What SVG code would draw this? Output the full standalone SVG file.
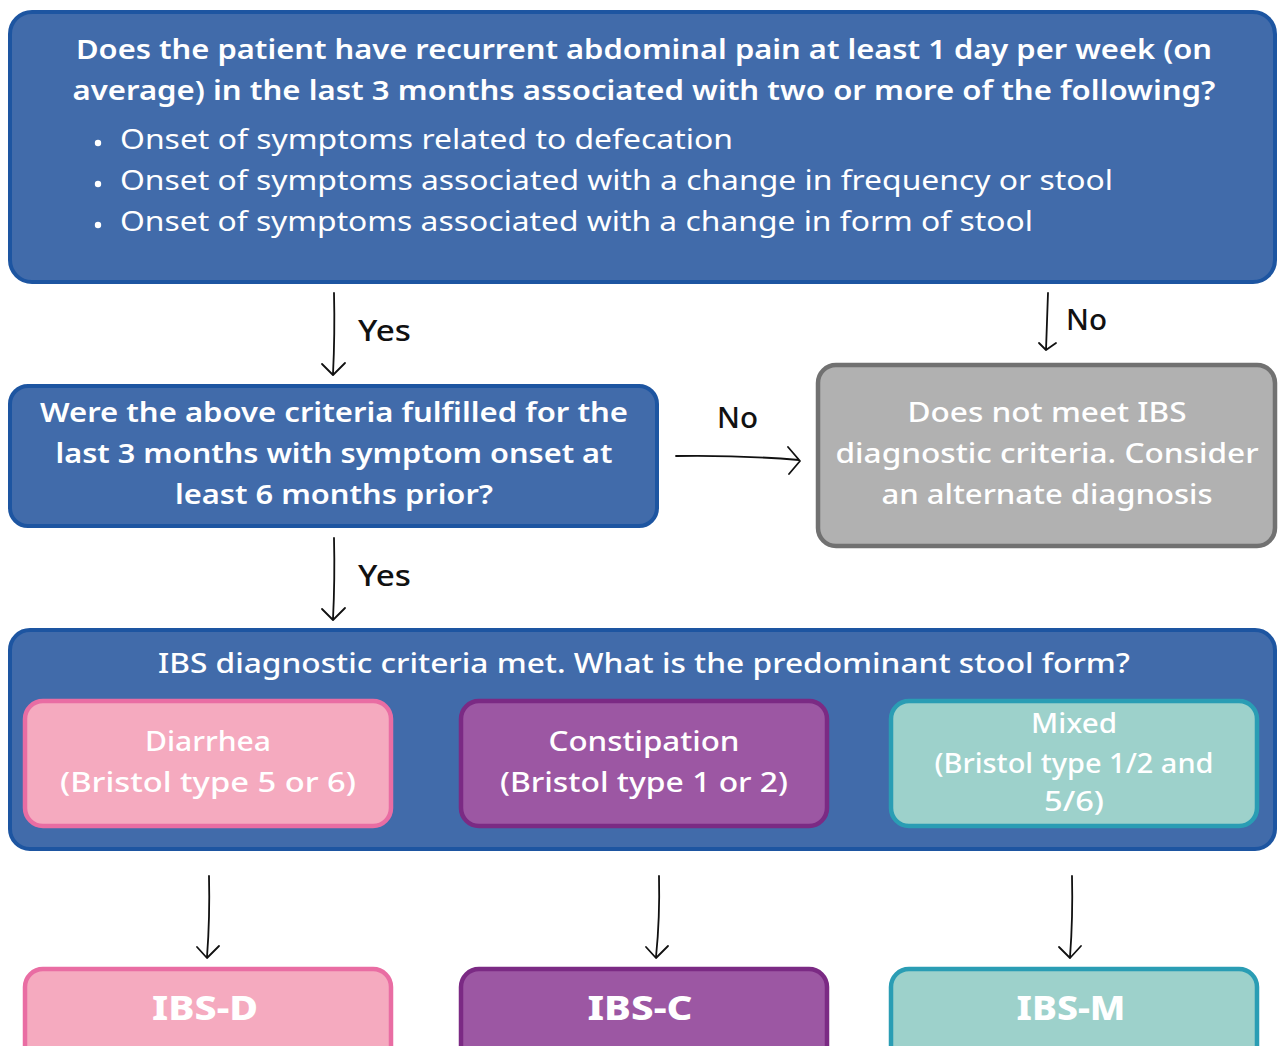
<svg xmlns="http://www.w3.org/2000/svg" width="1279" height="1046" viewBox="0 0 1279 1046">
<style>
.blue{fill:#416BAA;stroke:#1D55A1;stroke-width:4}
.grey{fill:#B1B1B1;stroke:#717171;stroke-width:4.5}
.pink{fill:#F5AABF;stroke:#E96DA3;stroke-width:4.5}
.purple{fill:#9C57A3;stroke:#7B2A84;stroke-width:4.5}
.teal{fill:#9DD1CB;stroke:#2A9DB4;stroke-width:4.5}
text{font-family:"Noto Sans","Open Sans","DejaVu Sans",sans-serif;fill:#fff}
.q{font-size:27px;font-weight:600;text-anchor:middle}
.b{font-size:27px;font-weight:400}
.r{font-size:27px;font-weight:500;text-anchor:middle}
.big{font-size:34px;font-weight:800;text-anchor:middle}
.lbl{font-size:28px;font-weight:500;fill:#111}
.arr{fill:none;stroke:#111;stroke-width:1.8;stroke-linecap:round;stroke-linejoin:round}
</style>
<rect width="1279" height="1046" fill="#fff"/>
<g id="q1">
<rect class="blue" x="10" y="12" width="1265" height="270" rx="22"/>
<text class="q" x="644" y="59" textLength="1136" lengthAdjust="spacingAndGlyphs">Does the patient have recurrent abdominal pain at least 1 day per week (on</text>
<text class="q" x="644" y="100" textLength="1143" lengthAdjust="spacingAndGlyphs">average) in the last 3 months associated with two or more of the following?</text>
<circle cx="98" cy="143" r="3.2" fill="#fff"/>
<circle cx="98" cy="184" r="3.2" fill="#fff"/>
<circle cx="98" cy="225" r="3.2" fill="#fff"/>
<text class="b" x="120" y="149" textLength="613" lengthAdjust="spacingAndGlyphs">Onset of symptoms related to defecation</text>
<text class="b" x="120" y="190" textLength="993" lengthAdjust="spacingAndGlyphs">Onset of symptoms associated with a change in frequency or stool</text>
<text class="b" x="120" y="231" textLength="913" lengthAdjust="spacingAndGlyphs">Onset of symptoms associated with a change in form of stool</text>
</g>
<g id="q2">
<rect class="blue" x="10" y="386" width="647" height="140" rx="18"/>
<text class="q" x="334" y="422" textLength="588" lengthAdjust="spacingAndGlyphs">Were the above criteria fulfilled for the</text>
<text class="q" x="334" y="463" textLength="557" lengthAdjust="spacingAndGlyphs">last 3 months with symptom onset at</text>
<text class="q" x="334" y="504" textLength="318" lengthAdjust="spacingAndGlyphs">least 6 months prior?</text>
</g>
<g id="notibs">
<rect class="grey" x="818" y="365" width="457" height="181" rx="18"/>
<text class="r" x="1047" y="422" textLength="279" lengthAdjust="spacingAndGlyphs">Does not meet IBS</text>
<text class="r" x="1047" y="463" textLength="423" lengthAdjust="spacingAndGlyphs">diagnostic criteria. Consider</text>
<text class="r" x="1047" y="504" textLength="331" lengthAdjust="spacingAndGlyphs">an alternate diagnosis</text>
</g>
<g id="met">
<rect class="blue" x="10" y="630" width="1265" height="219" rx="20"/>
<text class="r" x="644" y="673" textLength="972" lengthAdjust="spacingAndGlyphs">IBS diagnostic criteria met. What is the predominant stool form?</text>
</g>
<g id="diarrhea">
<rect class="pink" x="25" y="701" width="366" height="125" rx="18"/>
<text class="r" x="208" y="751" textLength="126" lengthAdjust="spacingAndGlyphs">Diarrhea</text>
<text class="r" x="208" y="792" textLength="296" lengthAdjust="spacingAndGlyphs">(Bristol type 5 or 6)</text>
</g>
<g id="constipation">
<rect class="purple" x="461" y="701" width="366" height="125" rx="18"/>
<text class="r" x="644" y="751" textLength="191" lengthAdjust="spacingAndGlyphs">Constipation</text>
<text class="r" x="644" y="792" textLength="288" lengthAdjust="spacingAndGlyphs">(Bristol type 1 or 2)</text>
</g>
<g id="mixed">
<rect class="teal" x="891" y="701" width="366" height="125" rx="18"/>
<text class="r" x="1074" y="733" textLength="86" lengthAdjust="spacingAndGlyphs">Mixed</text>
<text class="r" x="1074" y="773" textLength="279" lengthAdjust="spacingAndGlyphs">(Bristol type 1/2 and</text>
<text class="r" x="1074" y="811" textLength="60" lengthAdjust="spacingAndGlyphs">5/6)</text>
</g>
<g id="ibsd">
<rect class="pink" x="25" y="969" width="366" height="100" rx="18"/>
<text class="big" x="205" y="1020" textLength="106" lengthAdjust="spacingAndGlyphs">IBS-D</text>
</g>
<g id="ibsc">
<rect class="purple" x="461" y="969" width="366" height="100" rx="18"/>
<text class="big" x="640" y="1020" textLength="105" lengthAdjust="spacingAndGlyphs">IBS-C</text>
</g>
<g id="ibsm">
<rect class="teal" x="891" y="969" width="366" height="100" rx="18"/>
<text class="big" x="1071" y="1020" textLength="109" lengthAdjust="spacingAndGlyphs">IBS-M</text>
</g>
<g id="connectors">
<path class="arr" d="M334 293 Q335 335 333 374 M322 364 L333 375 L345 363"/>
<text class="lbl" x="358" y="341" textLength="53" lengthAdjust="spacingAndGlyphs">Yes</text>
<path class="arr" d="M1048 293 Q1047 322 1046 350 M1039 343 L1046 350 L1056 343"/>
<text class="lbl" x="1066" y="330" textLength="41" lengthAdjust="spacingAndGlyphs">No</text>
<path class="arr" d="M676 456 Q740 455 799 460 M788 447 L800 461 L789 474"/>
<text class="lbl" x="717" y="428" textLength="41" lengthAdjust="spacingAndGlyphs">No</text>
<path class="arr" d="M334 538 Q335 580 333 619 M322 609 L333 620 L345 608"/>
<text class="lbl" x="358" y="586" textLength="53" lengthAdjust="spacingAndGlyphs">Yes</text>
<path class="arr" d="M209 876 Q210 918 207 957 M197 947 L207 958 L219 946"/>
<path class="arr" d="M659 876 Q660 918 656 957 M646 947 L656 958 L668 946"/>
<path class="arr" d="M1072 876 Q1073 918 1070 957 M1059 947 L1070 958 L1081 946"/>
</g>
</svg>
